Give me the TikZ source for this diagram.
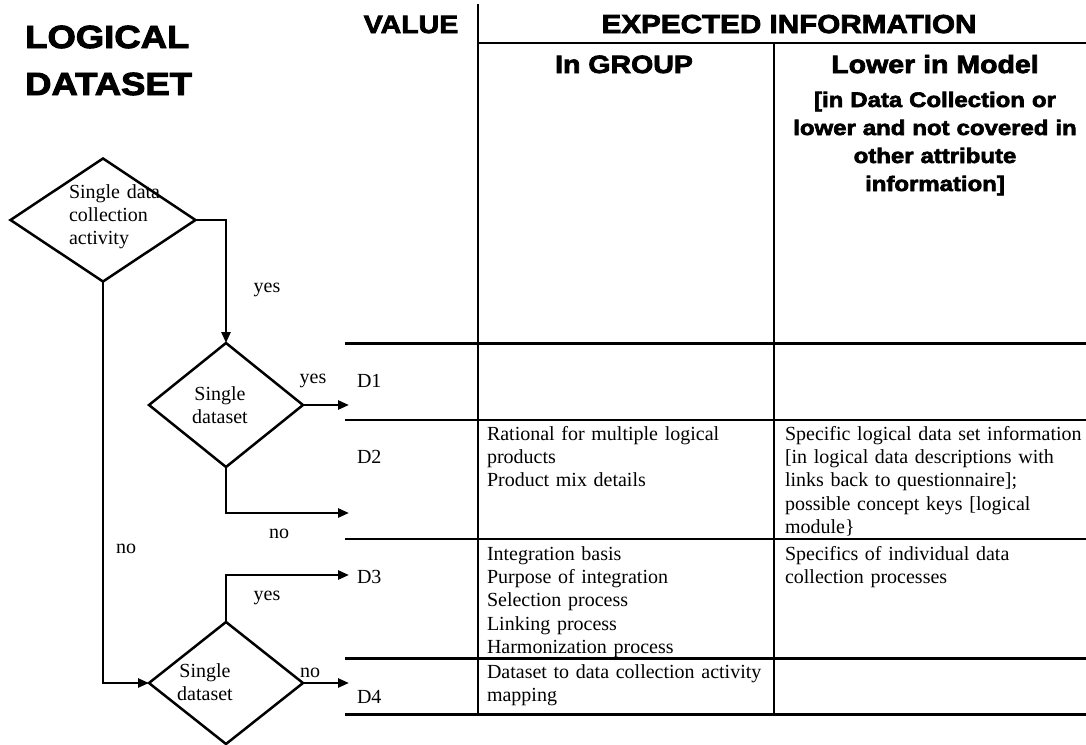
\documentclass[tikz,border=0pt]{standalone}
\usepackage{fontspec}
\setmainfont{Liberation Serif}
\newfontfamily\heavy{Liberation Sans}[BoldFeatures={FakeBold=3,FakeStretch=1.14}]
\usetikzlibrary{shapes.geometric,arrows.meta}

\begin{document}
\begin{tikzpicture}[x=1pt,y=-1pt,
  flow/.style={line width=2.5pt},
  arr/.style={flow,-{Triangle[length=11pt,width=9pt]}},
  decision/.style={diamond,draw,line width=2.5pt,inner sep=0pt,outer sep=0pt},
  body/.style={font=\fontsize{20}{23.4}\selectfont,inner sep=0pt,outer sep=0pt},
  para/.style={body,text width=#1,align=left,anchor=base west},
  flag/.style={body,anchor=base},
  head/.style={font=\heavy\bfseries\fontsize{25}{28}\selectfont,inner sep=0pt,anchor=base},
  thin/.style={line width=1.6pt},
  thick/.style={line width=3pt}]
\useasboundingbox (0,0) rectangle (1086,744);

% ---------- title ----------
\node[font=\heavy\bfseries\fontsize{32}{47}\selectfont,inner sep=0pt,
      text width=220pt,align=left,anchor=base west] (title) at (25,48)
      {LOGICAL\\DATASET};

% ---------- table grid ----------
\draw[thin] (478,4) -- (478,714);
\draw[thin] (774,43) -- (774,714);
\draw[thin] (478,43) -- (1086,43);
\draw[thick] (345,343) -- (1086,343);
\draw[thin] (345,420) -- (1086,420);
\draw[thin] (345,539) -- (1086,539);
\draw[thick] (345,658) -- (1086,658);
\draw[thick] (345,714) -- (1086,714);

% ---------- table headings ----------
\node[head] (hval) at (411,33) {VALUE};
\node[head,font=\heavy\bfseries\fontsize{26}{28}\selectfont] (hexp) at (789,33) {EXPECTED INFORMATION};
\node[head] (hgrp) at (624,73) {In GROUP};
\node[head] (hlow) at (935,73) {Lower in Model};
\node[font=\heavy\bfseries\fontsize{21}{28}\selectfont,inner sep=0pt,
      text width=300pt,align=center,anchor=base] (hsub) at (935,107)
      {{[}in Data Collection or\\lower and not covered in\\other attribute\\information{]}};

% ---------- row values ----------
\node[para=60pt] (d1) at (357,387) {D1};
\node[para=60pt] (d2) at (357,463) {D2};
\node[para=60pt] (d3) at (357,583) {D3};
\node[para=60pt] (d4) at (357,703) {D4};

% ---------- row contents ----------
\node[para=285pt] (g2) at (487,440)
  {Rational for multiple logical\\products\\Product mix details};
\node[para=300pt] (l2) at (785,440)
  {Specific logical data set information\\{[}in logical data descriptions with\\links back to questionnaire{]};\\possible concept keys {[}logical\\module\}};
\node[para=285pt] (g3) at (487,560)
  {Integration basis\\Purpose of integration\\Selection process\\Linking process\\Harmonization process};
\node[para=300pt] (l3) at (785,560)
  {Specifics of individual data\\collection processes};
\node[para=285pt] (g4) at (487,678)
  {Dataset to data collection activity\\mapping};

% ---------- decisions ----------
\node[decision,minimum width=185pt,minimum height=123pt] (q1) at (103,220) {};
\node[decision,minimum width=154pt,minimum height=124pt] (q2) at (226,405) {};
\node[decision,minimum width=154pt,minimum height=122pt] (q3) at (226,683) {};

\node[para=140pt] (q1t) at (69,198) {Single data\\collection\\activity};
\node[body,text width=90pt,align=center,anchor=base] (q2t) at (220,400) {Single\\dataset};
\node[body,text width=90pt,align=center,anchor=base] (q3t) at (205,677) {Single\\dataset};

% arrow ends at the value column
\coordinate (e1) at (349,405);
\coordinate (e2) at (349,513);
\coordinate (e3) at (349,575);
\coordinate (e4) at (349,683);

% ---------- connectors ----------
\draw[arr] (q1.east) -| (q2.north);
\draw[arr] (q2.east) -- (e1);
\draw[arr] (q2.south) |- (e2);
\draw[arr] (q1.south) |- (q3.west);
\draw[arr] (q3.north) |- (e3);
\draw[arr] (q3.east) -- (e4);

% ---------- branch labels ----------
\node[flag] (y1) at (267,292) {yes};
\node[flag] (y2) at (313,383) {yes};
\node[flag] (n2) at (279,538) {no};
\node[flag] (n1) at (126,553) {no};
\node[flag] (y3) at (267,600) {yes};
\node[flag] (n3) at (310,677) {no};
\end{tikzpicture}
\end{document}
